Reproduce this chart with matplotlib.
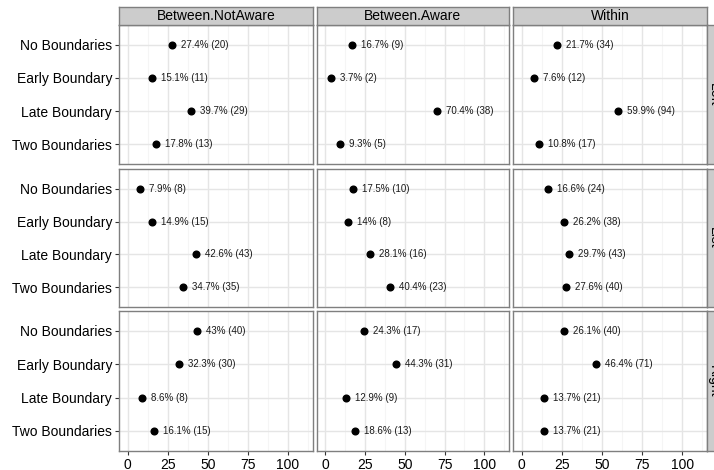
import matplotlib.pyplot as plt
from matplotlib.ticker import FixedLocator

plt.rcParams['font.family'] = ['Liberation Sans', 'DejaVu Sans']

# --- Data -------------------------------------------------------------------
conditions = ["Between.NotAware", "Between.Aware", "Within"]
sides = ["Left", "List", "Right"]
categories = ["No Boundaries", "Early Boundary", "Late Boundary", "Two Boundaries"]

# percentages per side (rows) and condition (columns), in category order
pct_left = [[27.4, 15.1, 39.7, 17.8], [16.7, 3.7, 70.4, 9.3], [21.7, 7.6, 59.9, 10.8]]
n_left = [[20, 11, 29, 13], [9, 2, 38, 5], [34, 12, 94, 17]]
pct_list = [[7.9, 14.9, 42.6, 34.7], [17.5, 14.0, 28.1, 40.4], [16.6, 26.2, 29.7, 27.6]]
n_list = [[8, 15, 43, 35], [10, 8, 16, 23], [24, 38, 43, 40]]
pct_right = [[43.0, 32.3, 8.6, 16.1], [24.3, 44.3, 12.9, 18.6], [26.1, 46.4, 13.7, 13.7]]
n_right = [[40, 30, 8, 15], [17, 31, 9, 13], [40, 71, 21, 21]]

pcts = [pct_left, pct_list, pct_right]
counts = [n_left, n_list, n_right]

x_breaks = [0, 25, 50, 75, 100]
x_minor = [12.5, 37.5, 62.5, 87.5, 112.5]

# --- Layout (pixels) ----------------------------------------------------------
W, H = 714, 470
col_px = [(119, 312.5), (316.5, 509), (513, 707)]
row_px = [(25, 164), (169, 307), (311, 451)]
strip = 18
border = '#7F7F7F'

fig = plt.figure(figsize=(W / 100, H / 100), dpi=100)
fig.patch.set_facecolor('white')


def box(x0, x1, y0, y1):
    return [x0 / W, 1 - y1 / H, (x1 - x0) / W, (y1 - y0) / H]


def strip_axes(rect, label, rot, tx=0.5):
    sax = fig.add_axes(rect)
    sax.set_facecolor('#CCCCCC')
    sax.set_xticks([])
    sax.set_yticks([])
    for s in sax.spines.values():
        s.set_color(border)
        s.set_linewidth(1.0)
    sax.text(tx, 0.5, label, transform=sax.transAxes, ha='center', va='center',
             fontsize=10, rotation=rot, color='black')


for r, side in enumerate(sides):
    y0, y1 = row_px[r]
    for c, cond in enumerate(conditions):
        x0, x1 = col_px[c]
        ax = fig.add_axes(box(x0, x1, y0, y1))
        ax.set_xlim(-5.5, 115.5)
        ax.set_ylim(4.6, 0.4)
        ax.xaxis.set_major_locator(FixedLocator(x_breaks))
        ax.xaxis.set_minor_locator(FixedLocator(x_minor))
        ax.set_yticks(range(1, len(categories) + 1))
        ax.grid(which='major', color='#E5E5E5', linewidth=1.0)
        ax.grid(which='minor', axis='x', color='#F5F5F5', linewidth=0.8)
        ax.set_axisbelow(True)
        for s in ax.spines.values():
            s.set_color(border)
            s.set_linewidth(1.0)

        vals = pcts[r][c]
        ys = list(range(1, len(categories) + 1))
        ax.plot(vals, ys, 'o', color='black', markersize=4.8, zorder=3)
        for v, y, n in zip(vals, ys, counts[r][c]):
            ax.annotate("{:g}% ({})".format(v, n), (v, y), xytext=(6.5, 0),
                        textcoords='offset points', va='center', ha='left',
                        fontsize=7, color='#1A1A1A')

        ax.tick_params(which='minor', length=0)
        ax.tick_params(which='major', length=3, color='#333333', width=0.8,
                       labelsize=10, labelcolor='black', pad=2)
        if c == 0:
            ax.set_yticklabels(categories)
        else:
            ax.tick_params(axis='y', length=0, labelleft=False)
        if r == len(sides) - 1:
            ax.set_xticklabels([str(b) for b in x_breaks])
        else:
            ax.tick_params(axis='x', length=0, labelbottom=False)

        if r == 0:
            strip_axes(box(x0, x1, 7, 25), cond, 0)
    # side strip on the right edge
    strip_axes(box(707, 707 + strip, y0, y1), side, -90, tx=0.38)

fig.savefig('out.png', dpi=100)
